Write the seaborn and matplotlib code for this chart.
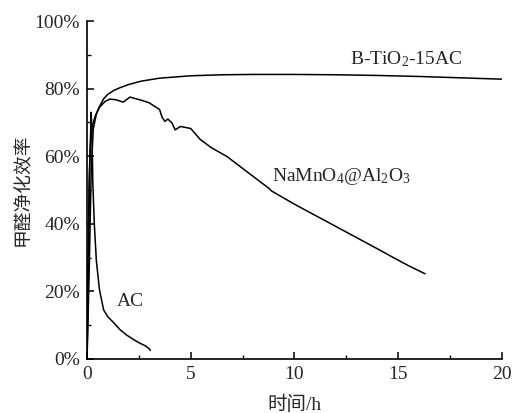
import numpy as np
import pandas as pd
import matplotlib
matplotlib.use("Agg")
import matplotlib.pyplot as plt
import seaborn as sns
from matplotlib.ticker import MultipleLocator, FuncFormatter

# ---- data ----
btio_x = [0, 0.05, 0.1, 0.15, 0.2, 0.3, 0.4, 0.6, 0.8, 1.0, 1.3, 1.6, 2.0, 2.6, 3.5, 5.0, 6.5, 8.0, 10, 12, 14, 16, 18, 20]
btio_y = [0, 30, 52, 62, 67, 70, 72, 74.7, 77, 78.3, 79.5, 80.3, 81.2, 82.2, 83.1, 83.8, 84.1, 84.2, 84.2, 84.1, 83.9, 83.6, 83.2, 82.8]

namn_x = [0, 0.1, 0.2, 0.3, 0.45, 0.6, 0.87, 1.1, 1.4, 1.74, 2.07, 2.3, 2.6, 3.0, 3.5, 3.62, 3.76, 3.9, 4.1, 4.25,
          4.5, 5.0, 5.45, 6.0, 6.75, 7.5, 8.4, 8.75, 8.9, 10, 11, 12, 13, 14, 14.8, 15.5, 16.3]
namn_y = [0, 25, 55, 68, 72.5, 74.5, 76.2, 76.9, 76.7, 76.0, 77.5, 77.1, 76.6, 75.8, 73.8, 71.5, 70.3, 71.0, 69.8, 67.8,
          68.8, 68.2, 65, 62.5, 59.9, 56.4, 52.2, 50.6, 49.7, 45.8, 42.5, 39.2, 35.9, 32.6, 29.9, 27.6, 25.2]

ac_x = [0, 0.08, 0.12, 0.2, 0.24, 0.28, 0.35, 0.45, 0.6, 0.8, 1.0, 1.3, 1.6, 1.9, 2.2, 2.5, 2.8, 3.0, 3.05]
ac_y = [0, 30, 55, 73, 66, 52, 40, 29, 20.4, 14.5, 12.5, 10.6, 8.6, 7.1, 5.9, 4.8, 3.9, 3.0, 2.5]

series_labels = ["B-TiO$_2$-15AC", "NaMnO$_4$@Al$_2$O$_3$", "AC"]
x_ticks = [0, 5, 10, 15, 20]
y_ticks = [0, 20, 40, 60, 80, 100]
x_label = "时间/h"
y_label = "甲醛净化效率"

sns.set_theme(style="ticks")
plt.rcParams['font.family'] = ['Liberation Serif', 'Noto Sans CJK SC']
plt.rcParams['mathtext.fontset'] = 'custom'
plt.rcParams['mathtext.rm'] = 'Liberation Serif'
plt.rcParams['mathtext.it'] = 'Liberation Serif:italic'

df = pd.concat([
    pd.DataFrame({"t": btio_x, "eff": btio_y, "s": series_labels[0]}),
    pd.DataFrame({"t": namn_x, "eff": namn_y, "s": series_labels[1]}),
    pd.DataFrame({"t": ac_x, "eff": ac_y, "s": series_labels[2]}),
])

fig = plt.figure(figsize=(5.12, 4.13), dpi=100)
ax = fig.add_axes([0.170, 0.131, 0.810, 0.818])
sns.lineplot(data=df, x="t", y="eff", hue="s", palette=["black"] * 3, sort=False,
             estimator=None, lw=1.1, legend=False, ax=ax)

ax.set_xlim(0, 20)
ax.set_ylim(0, 100)
ax.set_xticks(x_ticks)
ax.set_yticks(y_ticks)
ax.xaxis.set_minor_locator(MultipleLocator(2.5))
ax.yaxis.set_minor_locator(MultipleLocator(10))
ax.yaxis.set_major_formatter(FuncFormatter(lambda v, p: f"{int(v)}%"))
ax.tick_params(which='major', direction='in', length=5, width=1.1, labelsize=14, pad=5, color='black')
ax.tick_params(which='minor', direction='in', length=3, width=1.0, color='black')
for s in ['top', 'right']:
    ax.spines[s].set_visible(False)
for s in ['left', 'bottom']:
    ax.spines[s].set_linewidth(1.2)
    ax.spines[s].set_color('black')

ax.set_xlabel(x_label, fontsize=14, labelpad=9)
ax.set_ylabel(y_label, fontsize=13.5, labelpad=2)

ax.text(12.7, 88.6, series_labels[0], fontsize=14, va='center', ha='left')
ax.text(8.9, 54, series_labels[1], fontsize=14, va='center', ha='left')
ax.text(1.45, 17, series_labels[2], fontsize=14, va='center', ha='left')

fig.savefig("out.png", dpi=100)
